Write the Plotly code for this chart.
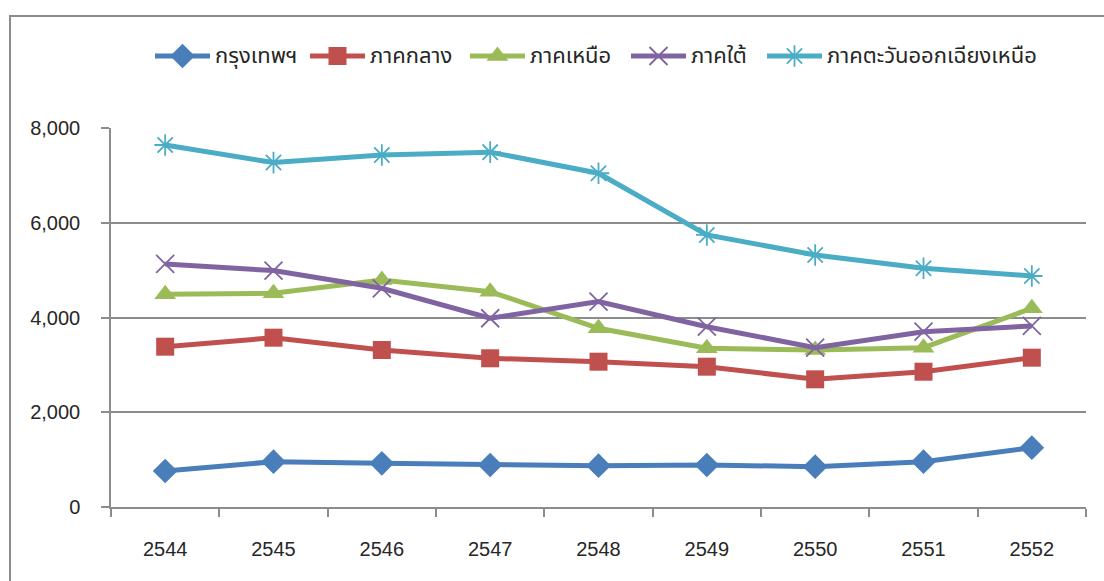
import plotly.graph_objects as go

years = ["2544", "2545", "2546", "2547", "2548", "2549", "2550", "2551", "2552"]

bangkok = [760, 956, 922, 887, 872, 887, 851, 956, 1252]
central = [3384, 3574, 3314, 3139, 3067, 2962, 2695, 2856, 3152]
north = [4490, 4511, 4792, 4545, 3772, 3350, 3314, 3363, 4195]
south = [5130, 4990, 4617, 3984, 4335, 3806, 3363, 3701, 3821]
northeast = [7641, 7270, 7430, 7490, 7045, 5742, 5320, 5040, 4876]

region_names = ["กรุงเทพฯ", "ภาคกลาง", "ภาคเหนือ", "ภาคใต้", "ภาคตะวันออกเฉียงเหนือ"]
region_values = [bangkok, central, north, south, northeast]
colors = ["#4A7EBB", "#C0504D", "#9BBB59", "#8064A2", "#4BACC6"]
symbols = ["diamond", "square", "triangle-up", "x-thin-open", "asterisk-open"]
sizes = [19, 18, 19, 18, 18]

# figure geometry in pixels: paper spans the full height above the x axis,
# the chart occupies the lower part and the legend row sits in the upper part
W, H = 1104, 581
L, R, B = 111, 18, 74
PLOT_TOP = 128
PW = W - L - R
PAPER_H = H - B
chart_frac = (PAPER_H - PLOT_TOP) / PAPER_H

# legend row: start of each line sample (px) and its vertical position
legend_x = [155, 310, 470, 631, 767]
legend_y = 56
sample_len = 55


def px_to_paper(x, y):
    return (x - L) / PW, (PAPER_H - y) / PAPER_H


def marker_style(color, symbol, size):
    open_marker = symbol.endswith("open")
    return dict(symbol=symbol, size=size, color=color,
                line=dict(color=color, width=1.8 if open_marker else 0))


fig = go.Figure()
for name, vals, color, symbol, size in zip(region_names, region_values, colors, symbols, sizes):
    fig.add_trace(go.Scatter(
        x=years, y=vals, name=name, mode="lines+markers",
        line=dict(color=color, width=5),
        marker=marker_style(color, symbol, size),
        showlegend=False,
    ))

# legend: line samples (shapes), markers (legend subplot in pixel units) and labels
shapes = []
annotations = []
for i, (name, color) in enumerate(zip(region_names, colors)):
    x0, y0 = px_to_paper(legend_x[i], legend_y)
    x1, _ = px_to_paper(legend_x[i] + sample_len, legend_y)
    shapes.append(dict(type="line", xref="paper", yref="paper", x0=x0, x1=x1, y0=y0, y1=y0,
                       line=dict(color=color, width=5)))
    tx, _ = px_to_paper(legend_x[i] + sample_len + 3, legend_y)
    annotations.append(dict(text=name, xref="paper", yref="paper", x=tx, y=y0,
                            xanchor="left", yanchor="middle", showarrow=False,
                            font=dict(size=22, color="#262626",
                                      family="Noto Sans Thai, Tahoma, sans-serif")))

for i, (color, symbol, size) in enumerate(zip(colors, symbols, sizes)):
    fig.add_trace(go.Scatter(
        x=[legend_x[i] + sample_len / 2 - L], y=[legend_y],
        xaxis="x2", yaxis="y2", mode="markers", cliponaxis=False,
        marker=marker_style(color, symbol, size),
        showlegend=False, hoverinfo="skip",
    ))

axis_grey = "#8C8C8C"
shapes.append(dict(type="rect", xref="paper", yref="paper",
                   x0=(10 - L) / PW, x1=1.2, y0=-0.5, y1=(PAPER_H - 16) / PAPER_H,
                   line=dict(color=axis_grey, width=2), fillcolor="rgba(0,0,0,0)", layer="below"))

fig.update_layout(
    width=W, height=H,
    margin=dict(l=L, r=R, t=0, b=B, autoexpand=False),
    paper_bgcolor="white", plot_bgcolor="white",
    font=dict(family="Liberation Sans, Arial, sans-serif", color="#262626"),
    showlegend=False,
    xaxis=dict(type="category", range=[-0.5, len(years) - 0.5], tickson="boundaries",
               ticks="outside", ticklen=8,
               tickcolor=axis_grey, tickwidth=1.5, showline=True, linecolor=axis_grey,
               linewidth=1.5, showgrid=False, ticklabelstandoff=23, automargin=False,
               tickfont=dict(size=20), anchor="y"),
    yaxis=dict(domain=[0, chart_frac], range=[0, 8000],
               tickvals=[0, 2000, 4000, 6000, 8000],
               ticktext=["0", "2,000", "4,000", "6,000", "8,000"],
               ticks="outside", ticklen=8, tickcolor=axis_grey, tickwidth=1.5,
               showline=True, linecolor=axis_grey, linewidth=1.5,
               showgrid=True, gridcolor=axis_grey, gridwidth=1.5,
               zeroline=False, ticklabelstandoff=17, automargin=False,
               tickfont=dict(size=20)),
    xaxis2=dict(domain=[0, 1], range=[0, PW], visible=False, fixedrange=True, anchor="y2"),
    yaxis2=dict(domain=[chart_frac, 1], range=[PLOT_TOP, 0], visible=False,
                fixedrange=True, anchor="x2"),
    shapes=shapes,
    annotations=annotations,
)

fig.write_html("out.html")
